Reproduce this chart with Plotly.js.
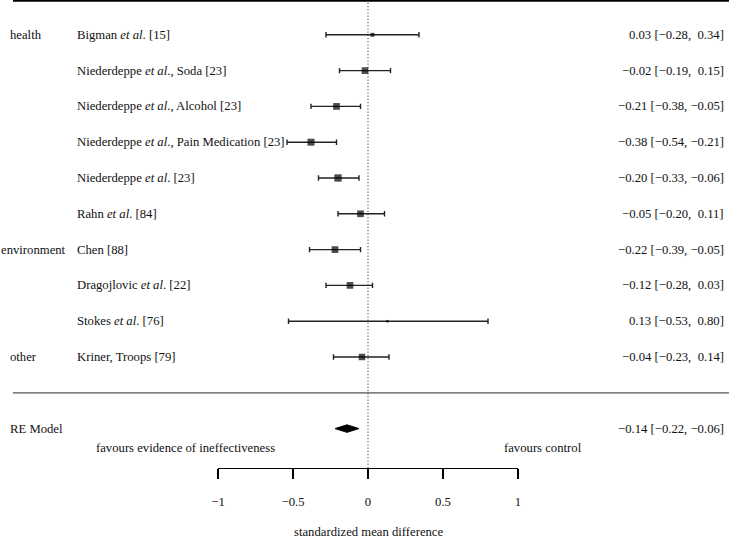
<!DOCTYPE html>
<html><head><meta charset="utf-8">
<script src="https://cdn.plot.ly/plotly-3.0.1.min.js"></script>
<style>html,body{margin:0;padding:0;background:#fff}#chart{width:729px;height:539px}</style>
</head><body><div id="chart"></div>
<script>
// ---- data ----
const groups = ['health', '', '', '', '', '', 'environment', '', '', 'other'];
const studies = [
  'Bigman <i>et al</i>. [15]',
  'Niederdeppe <i>et al</i>., Soda [23]',
  'Niederdeppe <i>et al</i>., Alcohol [23]',
  'Niederdeppe <i>et al</i>., Pain Medication [23]',
  'Niederdeppe <i>et al</i>. [23]',
  'Rahn <i>et al</i>. [84]',
  'Chen [88]',
  'Dragojlovic <i>et al</i>. [22]',
  'Stokes <i>et al</i>. [76]',
  'Kriner, Troops [79]'
];
const estimate = [0.03, -0.02, -0.21, -0.38, -0.20, -0.05, -0.22, -0.12, 0.13, -0.04];
const lower    = [-0.28, -0.19, -0.38, -0.54, -0.33, -0.20, -0.39, -0.28, -0.53, -0.23];
const upper    = [0.34, 0.15, -0.05, -0.21, -0.06, 0.11, -0.05, 0.03, 0.80, 0.14];
const pooledLabel = 'RE Model';
const pooledEstimate = -0.14, pooledLower = -0.22, pooledUpper = -0.06;
const tickValues = [-1, -0.5, 0, 0.5, 1];
const tickLabels = ['\u22121', '\u22120.5', '0', '0.5', '1'];
const leftNote = 'favours evidence of ineffectiveness';
const rightNote = 'favours control';
const xTitle = 'standardized mean difference';

// ---- style ----
const markerSizes = [4, 6.7, 6.7, 7, 7.3, 6.7, 6.7, 6.7, 2.5, 6.5];
const FONT = '"Liberation Serif", "Times New Roman", Times, serif';
const FS = 12.7;
const INK = '#000';
const TXT = '#111';
const W = 729, H = 539, L = 218, R = 211, B = 71;
const plotW = W - L - R, plotH = H - B;
const px2paperX = p => (p - L) / plotW;
const px2paperY = p => (plotH - p) / plotH;

const n = estimate.length;
const rows = estimate.map((_, i) => n - i);
const fmt = v => (v < 0 ? '\u2212' : '') + Math.abs(v).toFixed(2);
const fmtPad = v => (v < 0 ? '\u2212' : '\u00A0') + Math.abs(v).toFixed(2);
const ciText = (e, l, u) => fmt(e) + ' [' + fmtPad(l) + ',\u00A0' + fmtPad(u) + ']';

const traces = [{
  type: 'scatter', mode: 'markers', x: estimate, y: rows,
  marker: {symbol: 'square', size: markerSizes, color: INK, line: {width: 0}},
  error_x: {type: 'data', symmetric: false,
    array: estimate.map((e, i) => upper[i] - e),
    arrayminus: estimate.map((e, i) => e - lower[i]),
    color: '#222', thickness: 1.4, width: 2.7},
  hoverinfo: 'skip', showlegend: false, cliponaxis: false
}];
const dh = 0.105;
traces.push({
  type: 'scatter', mode: 'lines', fill: 'toself', fillcolor: INK,
  x: [pooledLower, pooledEstimate, pooledUpper, pooledEstimate, pooledLower],
  y: [-1, -1 + dh, -1, -1 - dh, -1],
  line: {color: INK, width: 1}, hoverinfo: 'skip', showlegend: false
});

const ann = [];
const txt = (text, x, y, xanchor, yref) => ({
  text, x, y, xref: 'paper', yref: yref || 'y', xanchor, yanchor: 'middle',
  showarrow: false, font: {family: FONT, size: FS, color: TXT}
});
groups.forEach((g, i) => {
  if (!g) return;
  ann.push(txt(g, px2paperX(g.length > 8 ? -1 : 8), rows[i], 'left'));
});
studies.forEach((s, i) => ann.push(txt(s, px2paperX(75), rows[i], 'left')));
estimate.forEach((e, i) => ann.push(txt(ciText(e, lower[i], upper[i]), px2paperX(726), rows[i], 'right')));
ann.push(txt(pooledLabel, px2paperX(8), -1, 'left'));
ann.push(txt(ciText(pooledEstimate, pooledLower, pooledUpper), px2paperX(726), -1, 'right'));
ann.push(txt(leftNote, px2paperX(277), px2paperY(448), 'right', 'paper'));
ann.push(txt(rightNote, px2paperX(502), px2paperY(448), 'left', 'paper'));
ann.push(txt(xTitle, 0.5, px2paperY(531.5), 'center', 'paper'));

const rowPx = 35.8, row0Px = 392.8;
const yr = [(row0Px - plotH) / rowPx, row0Px / rowPx];

const layout = {
  width: W, height: H, margin: {l: L, r: R, t: 0, b: B, pad: 0},
  paper_bgcolor: '#fff', plot_bgcolor: 'rgba(0,0,0,0)', showlegend: false,
  font: {family: FONT, size: FS, color: TXT},
  xaxis: {range: [-1, 1], tickvals: tickValues, ticktext: tickLabels,
    ticks: 'outside', ticklen: 10, tickwidth: 1.2, tickcolor: INK,
    showline: true, linecolor: INK, linewidth: 1.2, showgrid: false, zeroline: false,
    tickfont: {family: FONT, size: FS, color: TXT}, ticklabelstandoff: 12,
    automargin: false, fixedrange: true},
  yaxis: {range: yr, visible: false, showgrid: false, zeroline: false, fixedrange: true},
  shapes: [
    {type: 'line', xref: 'x', yref: 'y', x0: 0, x1: 0, y0: yr[0], y1: yr[1],
     line: {color: '#444', width: 1, dash: '1.2px,2px'}, layer: 'below'},
    {type: 'line', xref: 'paper', yref: 'paper', x0: px2paperX(13), x1: px2paperX(729),
     y0: px2paperY(0.8), y1: px2paperY(0.8), line: {color: INK, width: 2}},
    {type: 'line', xref: 'paper', yref: 'y', x0: px2paperX(13), x1: px2paperX(729),
     y0: 0, y1: 0, line: {color: '#555', width: 1.3}}
  ],
  annotations: ann
};
Plotly.newPlot('chart', traces, layout, {staticPlot: true, displayModeBar: false});
</script></body></html>
